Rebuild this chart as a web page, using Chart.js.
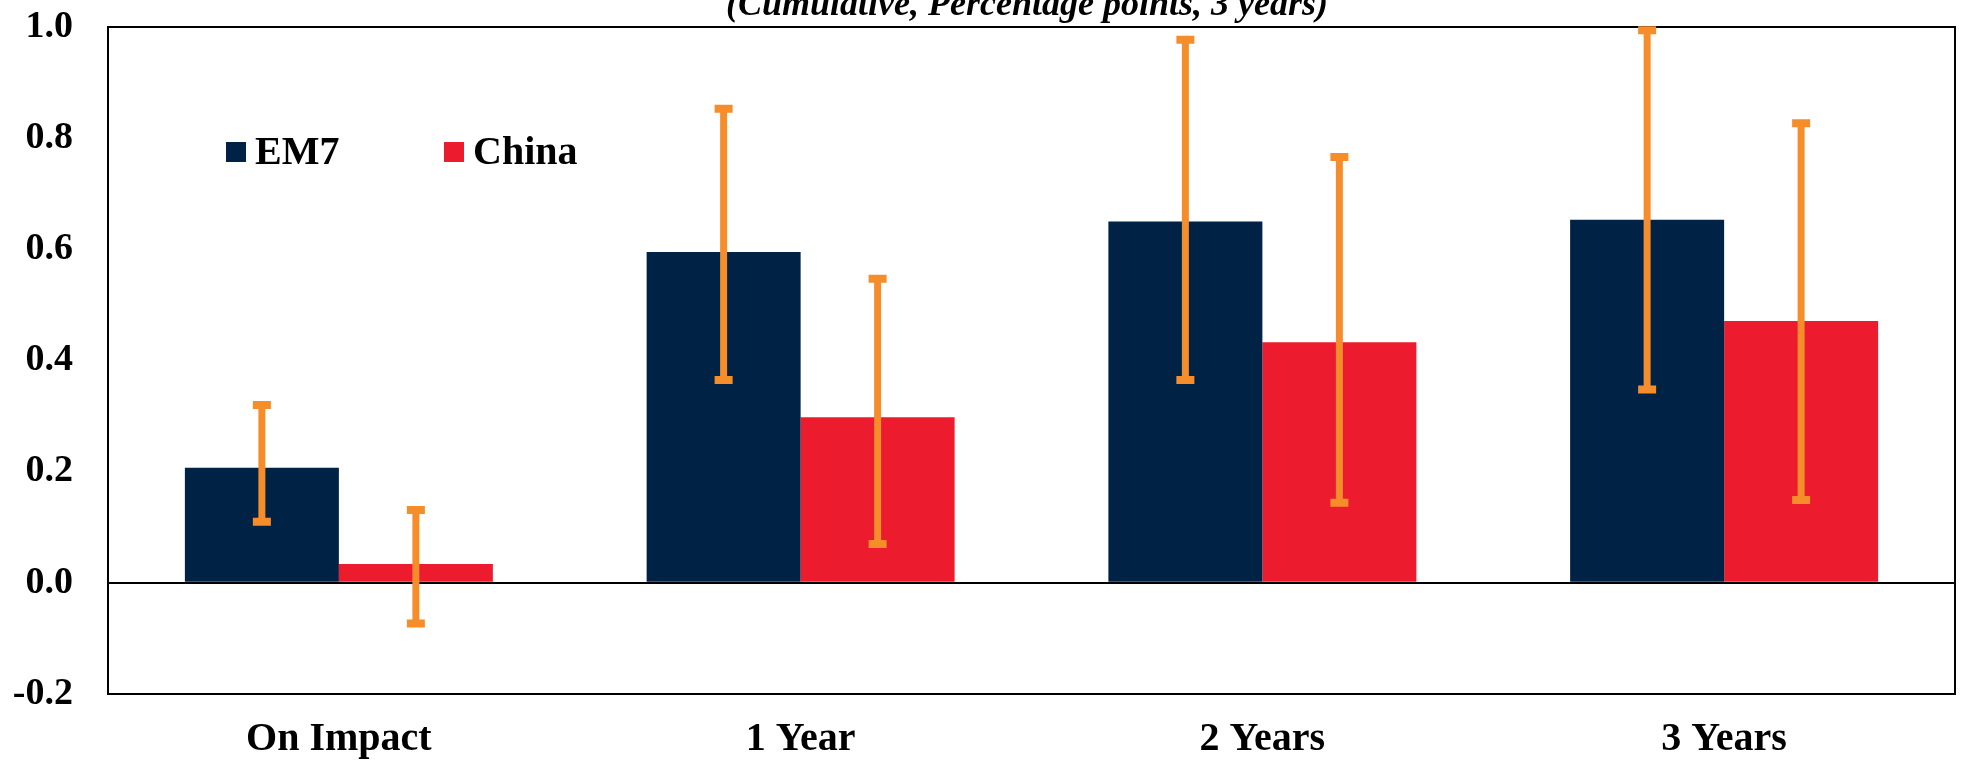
<!DOCTYPE html>
<html>
<head>
<meta charset="utf-8">
<script src="https://cdn.jsdelivr.net/npm/chart.js@4.4.0/dist/chart.umd.min.js"></script>
<style>
  html, body { margin: 0; padding: 0; background: #fff; }
  #wrap { width: 1961px; height: 760px; }
</style>
</head>
<body>
<div id="wrap"><canvas id="chart" width="1961" height="760"></canvas></div>
<script>
const categories = ["On Impact", "1 Year", "2 Years", "3 Years"];
const seriesNames = ["EM7", "China"];
const em7Values = [0.207, 0.595, 0.650, 0.653];
const chinaValues = [0.034, 0.298, 0.433, 0.471];
const em7High = [0.320, 0.853, 0.977, 0.994];
const em7Low = [0.110, 0.365, 0.365, 0.348];
const chinaHigh = [0.131, 0.547, 0.766, 0.827];
const chinaLow = [-0.073, 0.070, 0.144, 0.149];
const yTicks = [-0.2, 0, 0.2, 0.4, 0.6, 0.8, 1.0];
const subtitle = "(Cumulative, Percentage points, 3 years)";

const NAVY = "#002245";
const RED = "#EC1C2E";
const ORANGE = "#F68D2B";
const FONT = '"Liberation Serif", "Times New Roman", serif';

// whiskers drawn on top of the bars, from each bar's own x
const errorBars = {
  id: "errorBars",
  afterDatasetsDraw(chart) {
    const ctx = chart.ctx;
    const y = chart.scales.y;
    const ranges = [[em7Low, em7High], [chinaLow, chinaHigh]];
    ctx.save();
    ctx.strokeStyle = ORANGE;
    chart.data.datasets.forEach((ds, i) => {
      chart.getDatasetMeta(i).data.forEach((bar, j) => {
        const x = bar.x;
        const top = y.getPixelForValue(ranges[i][1][j]);
        const bot = y.getPixelForValue(ranges[i][0][j]);
        ctx.lineWidth = 7;
        ctx.beginPath();
        ctx.moveTo(x, top);
        ctx.lineTo(x, bot);
        ctx.stroke();
        ctx.lineWidth = 8;
        ctx.beginPath();
        ctx.moveTo(x - 9, top); ctx.lineTo(x + 9, top);
        ctx.moveTo(x - 9, bot); ctx.lineTo(x + 9, bot);
        ctx.stroke();
      });
    });
    ctx.restore();
  }
};

// top + right sides of the box, the axes draw the other two
const frame = {
  id: "frame",
  beforeDatasetsDraw(chart) {
    const { ctx, chartArea: a } = chart;
    ctx.save();
    ctx.strokeStyle = "#000";
    ctx.lineWidth = 2;
    ctx.beginPath();
    ctx.moveTo(a.left, a.top);
    ctx.lineTo(a.right, a.top);
    ctx.lineTo(a.right, a.bottom);
    ctx.stroke();
    ctx.restore();
  }
};

const extras = {
  id: "extras",
  afterDraw(chart) {
    const ctx = chart.ctx;
    ctx.save();
    ctx.fillStyle = "#000";
    ctx.font = "italic bold 36px " + FONT;
    ctx.textAlign = "center";
    ctx.textBaseline = "alphabetic";
    ctx.fillText(subtitle, 1027, 15);

    const legendX = [226, 444];
    ctx.font = "bold 40px " + FONT;
    ctx.textAlign = "left";
    chart.data.datasets.forEach((ds, i) => {
      ctx.fillStyle = ds.backgroundColor;
      ctx.fillRect(legendX[i], 142, 20, 20);
      ctx.fillStyle = "#000";
      ctx.fillText(ds.label, legendX[i] + 29, 164);
    });
    ctx.restore();
  }
};

new Chart(document.getElementById("chart"), {
  type: "bar",
  data: {
    labels: categories,
    datasets: [
      { label: seriesNames[0], data: em7Values, backgroundColor: NAVY, categoryPercentage: 0.667, barPercentage: 1.0 },
      { label: seriesNames[1], data: chinaValues, backgroundColor: RED, categoryPercentage: 0.667, barPercentage: 1.0 }
    ]
  },
  options: {
    responsive: false,
    animation: false,
    devicePixelRatio: 1,
    layout: { padding: { top: 27, right: 6, left: 0, bottom: 0 } },
    plugins: {
      legend: { display: false },
      tooltip: { enabled: false },
      title: { display: false }
    },
    scales: {
      x: {
        offset: true,
        grid: { display: false, drawTicks: false },
        border: { display: true, color: "#000", width: 2 },
        ticks: {
          color: "#000",
          padding: 22,
          maxRotation: 0,
          font: { family: FONT, size: 40, weight: "bold" }
        },
        afterFit(scale) {
          scale.height = 66;
          scale.paddingLeft = 0;
          scale.paddingRight = 0;
        }
      },
      y: {
        min: -0.2,
        max: 1.0,
        afterBuildTicks(scale) { scale.ticks = yTicks.map(v => ({ value: v })); },
        afterFit(scale) {
          scale.width = 108;
          scale.paddingTop = 0;
          scale.paddingBottom = 0;
        },
        grid: {
          drawTicks: false,
          lineWidth: 2,
          color: c => (c.tick && Math.abs(c.tick.value) < 1e-9) ? "#000" : "rgba(0,0,0,0)"
        },
        border: { display: true, color: "#000", width: 2 },
        ticks: {
          color: "#000",
          padding: 35,
          font: { family: FONT, size: 38, weight: "bold" },
          callback: v => Number(v).toFixed(1)
        }
      }
    }
  },
  plugins: [frame, errorBars, extras]
});
</script>
</body>
</html>
